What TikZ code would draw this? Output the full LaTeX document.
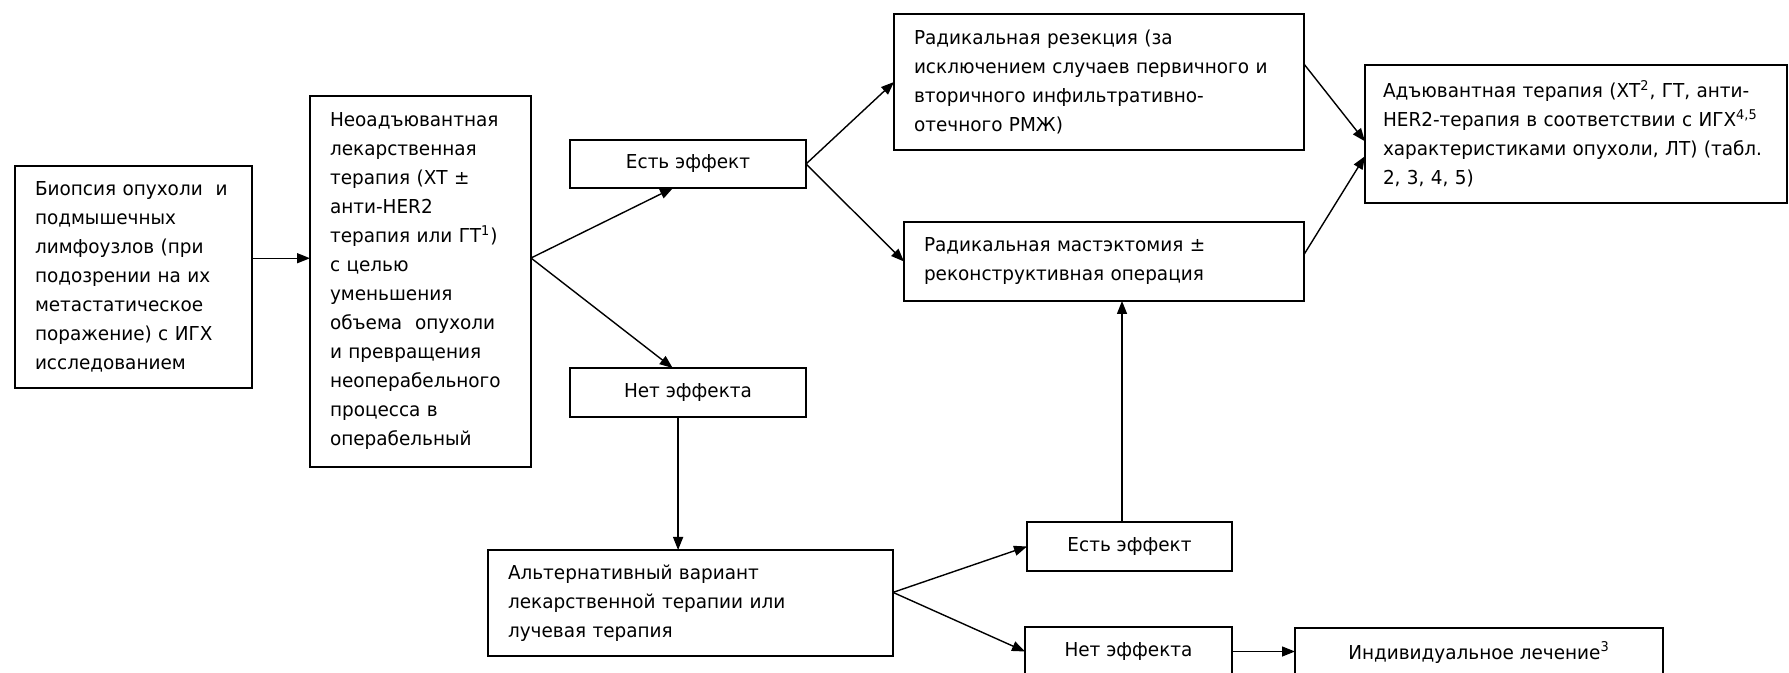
\documentclass[tikz,border=0pt]{standalone}
\usepackage{fontspec}
\setmainfont{DejaVu Sans}[FakeStretch=0.96]
\usetikzlibrary{arrows.meta}

\begin{document}
\begin{tikzpicture}[x=0.5pt, y=-0.5pt,
    box/.style={draw, line width=0.9pt, anchor=north west, inner xsep=10pt, inner ysep=0pt,
      outer sep=0pt, align=left, font=\fontsize{9.6pt}{14.5pt}\selectfont},
    smallbox/.style={box, align=center, inner xsep=0pt},
    arr/.style={-{Triangle[length=6.5pt,width=5pt]}, line width=0.7pt}]
    \useasboundingbox (0,0) rectangle (1789,673);
    \clip (0,0) rectangle (1789,673);

    \node[box, minimum width=118.5pt, minimum height=111pt, text width=98.5pt] (bio) at (15,166)
      {Биопсия опухоли~ и\\ подмышечных\\ лимфоузлов (при\\ подозрении на их\\
       метастатическое\\ поражение) с ИГХ\\ исследованием};
    \node[box, minimum width=110.5pt, minimum height=185.5pt, text width=90.5pt] (neo) at (310,96)
      {Неоадъювантная\\ лекарственная\\ терапия (ХТ ±\\ анти-HER2\\ терапия или ГТ\textsuperscript{1})\\
       с целью\\ уменьшения\\ объема~ опухоли\\ и превращения\\ неоперабельного\\ процесса в\\ операбельный};

    \node[smallbox, minimum width=118pt, minimum height=24pt] (eff1) at (570,140) {Есть эффект};
    \node[smallbox, minimum width=118pt, minimum height=24.5pt] (noeff1) at (570,368) {Нет эффекта};

    \node[box, minimum width=205pt, minimum height=68pt, text width=185pt] (res) at (894,14)
      {Радикальная резекция (за\\ исключением случаев первичного и\\ вторичного инфильтративно-\\ отечного РМЖ)};
    \node[box, minimum width=200pt, minimum height=39.5pt, text width=180pt] (mast) at (904,222)
      {Радикальная мастэктомия ±\\ реконструктивная операция};
    \node[box, minimum width=211pt, minimum height=69pt, text width=193pt, inner xsep=9pt] (adj) at (1365,65)
      {Адъювантная терапия (ХТ\textsuperscript{2}, ГТ, анти-\\ HER2-терапия в соответствии с ИГХ\textsuperscript{4,5}\\
       характеристиками опухоли, ЛТ) (табл.\\ 2, 3, 4, 5)};

    \node[box, minimum width=202.5pt, minimum height=53pt, text width=182.5pt] (alt) at (488,550)
      {Альтернативный вариант\\ лекарственной терапии или\\ лучевая терапия};
    \node[smallbox, minimum width=102.5pt, minimum height=24.5pt] (eff2) at (1027,522) {Есть эффект};
    \node[smallbox, minimum width=103.5pt, minimum height=24.5pt] (noeff2) at (1025,627) {Нет эффекта};
    \node[smallbox, minimum width=184pt, minimum height=24.5pt] (ind) at (1295,628)
      {Индивидуальное лечение\textsuperscript{3}};

    \draw[arr] (bio.9) -- (bio.9 -| neo.west);
    \draw[arr] (neo.12) -- (eff1.238);
    \draw[arr] (neo.12) -- (noeff1.122);
    \draw[arr] (eff1.east) -- (res.west);
    \draw[arr] (eff1.east) -- (mast.west);
    \draw[arr] (res.5) -- (adj.182);
    \draw[arr] (mast.2) -- (adj.186);
    \draw[arr] (noeff1.248) -- (noeff1.248 |- alt.north);
    \draw[arr] (alt.3) -- (eff2.west);
    \draw[arr] (alt.3) -- (noeff2.west);
    \draw[arr] (eff2.107) -- (eff2.107 |- mast.south);
    \draw[arr] (noeff2.east) -- (noeff2.east -| ind.west);
\end{tikzpicture}
\end{document}
